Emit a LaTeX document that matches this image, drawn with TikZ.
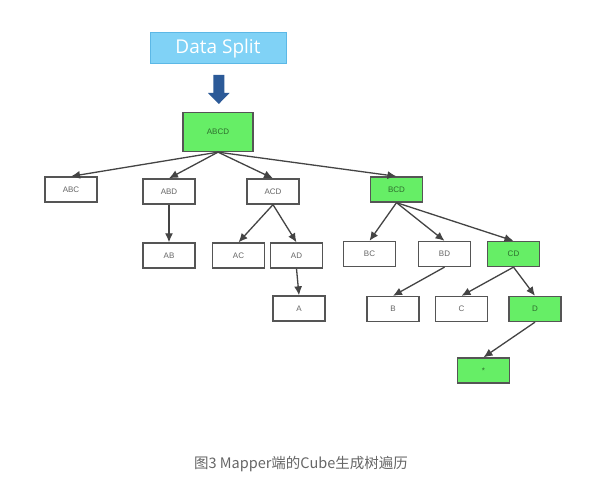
\documentclass[tikz,border=0pt]{standalone}
\usepackage{fontspec}
\setmainfont{Liberation Sans}
\newfontfamily\cjkfont{Noto Sans CJK SC}
\newfontfamily\titlefont{Open Sans}
\usetikzlibrary{arrows.meta}
\definecolor{boxline}{HTML}{555555}
\definecolor{edgecol}{HTML}{444444}
\definecolor{greenfill}{HTML}{66EE66}
\definecolor{bluefill}{HTML}{80D2F6}
\definecolor{blueline}{HTML}{5CB8E6}
\definecolor{arrowblue}{HTML}{2C5A98}
\definecolor{txt}{HTML}{666666}
\definecolor{gtxt}{HTML}{2E6E2E}
\tikzset{
  tbox/.style={draw=boxline, line width=1.3pt, minimum width=52pt, minimum height=25pt, inner sep=0pt, font=\fontsize{8}{9}\selectfont, text=txt},
  gbox/.style={tbox, fill=greenfill, text=gtxt},
  edge/.style={draw=edgecol, line width=1.3pt, -{Latex[length=9pt,width=8pt]}},
}
\begin{document}
\begin{tikzpicture}[x=1pt,y=-1pt]
\useasboundingbox (0,0) rectangle (598,486);
\fill[white] (0,0) rectangle (598,486);
% Data Split
\node[draw=blueline, fill=bluefill, line width=1pt, minimum width=136pt, minimum height=31pt, inner sep=0pt, text=white, font=\titlefont\fontsize{19}{21}\selectfont] (ds) at (218,48.5) {Data Split};
% block arrow
\fill[arrowblue] (213.3,75) -- (224.3,75) -- (224.3,93) -- (229.5,93) -- (218.8,104) -- (208,93) -- (213.3,93) -- cycle;
% nodes
\node[gbox, minimum width=70pt, minimum height=39pt] (abcd) at (218,132) {ABCD};
\node[tbox] (abc) at (71,189.5) {ABC};
\node[tbox] (abd) at (169,191.5) {ABD};
\node[tbox] (acd) at (273,191.5) {ACD};
\node[gbox] (bcd) at (396.5,189.5) {BCD};
\node[tbox] (ab) at (169,255.5) {AB};
\node[tbox] (ac) at (238.5,255.5) {AC};
\node[tbox] (ad) at (296.5,255.5) {AD};
\node[tbox] (a) at (299,308.5) {A};
\node[tbox] (bc) at (369.5,254) {BC};
\node[tbox] (bd) at (444.5,254) {BD};
\node[gbox] (cd) at (513.5,254) {CD};
\node[tbox] (b) at (393,309) {B};
\node[tbox] (c) at (461.5,309) {C};
\node[gbox] (d) at (535,309) {D};
\node[gbox] (star) at (483.5,370.5) {*};
% edges
\draw[edge] (abcd.south) -- (abc.north);
\draw[edge] (abcd.south) -- (abd.north);
\draw[edge] (abcd.south) -- (acd.north);
\draw[edge] (abcd.south) -- (bcd.north);
\draw[edge] (abd.south) -- (ab.north);
\draw[edge] (acd.south) -- (ac.north);
\draw[edge] (acd.south) -- (ad.north);
\draw[edge] (ad.south) -- (a.north);
\draw[edge] (bcd.south) -- (bc.north);
\draw[edge] (bcd.south) -- (bd.north);
\draw[edge] (bcd.south) -- (cd.north);
\draw[edge] (bd.south) -- (b.north);
\draw[edge] (cd.south) -- (c.north);
\draw[edge] (cd.south) -- (d.north);
\draw[edge] (d.south) -- (star.north);
% caption
\node[text=txt, font=\cjkfont\fontsize{14.5}{16}\selectfont, inner sep=0pt] (cap) at (301,464) {图3 Mapper端的Cube生成树遍历};
\end{tikzpicture}
\end{document}
